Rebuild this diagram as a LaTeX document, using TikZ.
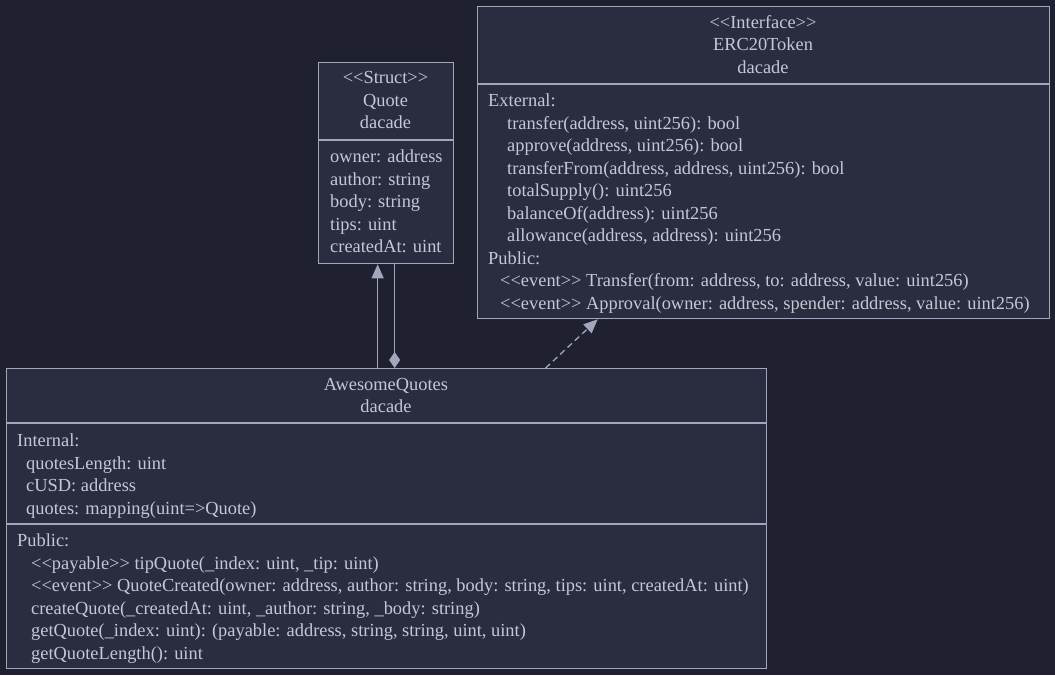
\documentclass[tikz,border=0pt]{standalone}
\usepackage{fontspec}
\setmainfont{Liberation Serif}
\usetikzlibrary{arrows.meta}
\definecolor{bg}{HTML}{1F2030}
\definecolor{boxfill}{HTML}{2A2C3F}
\definecolor{edge}{HTML}{A3A5BC}
\definecolor{ink}{HTML}{C6C7D6}
% guillemet-like stereotype brackets kept as two separate characters
\newcommand\stOpen{\mbox{<}\mbox{<}}
\newcommand\stClose{\mbox{>}\mbox{>}}

\begin{document}
\begin{tikzpicture}[x=1pt,y=-1pt,
  box/.style={draw=edge, fill=boxfill, line width=1.3pt, inner sep=0pt, anchor=north west},
  txt/.style={text=ink, font=\fontsize{18.4}{22}\selectfont, inner sep=0pt, anchor=base west},
  hdr/.style={txt, anchor=base},
  rule/.style={draw=edge, line width=1.3pt},
  link/.style={draw=edge, line width=1.3pt}]

\useasboundingbox (0,0) rectangle (1055,675);
\fill[bg] (0,0) rectangle (1055,675);

% ---------- class boxes ----------
\node[box, minimum width=135pt, minimum height=201pt] (quote) at (318,62) {};
\node[box, minimum width=572pt, minimum height=312pt] (erc) at (477,6) {};
\node[box, minimum width=760pt, minimum height=300pt] (aq) at (6,368) {};

% compartment separators
\draw[rule] (318,140) -- (453,140);
\draw[rule] (477,84) -- (1049,84);
\draw[rule] (6,423) -- (766,423);
\draw[rule] (6,524) -- (766,524);

% ---------- Quote ----------
\node[hdr] (q-st) at (385.5,83.5) {\stOpen Struct\stClose};
\node[hdr] (q-nm) at (385.5,106) {Quote};
\node[hdr] (q-ns) at (385.5,128.5) {dacade};
\node[txt] (q-1) at (330,162.5) {owner: address};
\node[txt] (q-2) at (330,185) {author: string};
\node[txt] (q-3) at (330,207.5) {body: string};
\node[txt] (q-4) at (330,230) {tips: uint};
\node[txt] (q-5) at (330,252.5) {createdAt: uint};

% ---------- ERC20Token ----------
\node[hdr] (e-st) at (763,28) {\stOpen Interface\stClose};
\node[hdr] (e-nm) at (763,50.5) {ERC20Token};
\node[hdr] (e-ns) at (763,73) {dacade};
\node[txt] (e-ext) at (488,106.5) {External:};
\node[txt] (e-1) at (507,129) {transfer(address, uint256): bool};
\node[txt] (e-2) at (507,151.5) {approve(address, uint256): bool};
\node[txt] (e-3) at (507,174) {transferFrom(address, address, uint256): bool};
\node[txt] (e-4) at (507,196.5) {totalSupply(): uint256};
\node[txt] (e-5) at (507,219) {balanceOf(address): uint256};
\node[txt] (e-6) at (507,241.5) {allowance(address, address): uint256};
\node[txt] (e-pub) at (488,264) {Public:};
\node[txt] (e-7) at (500,286.5) {\stOpen event\stClose{} Transfer(from: address, to: address, value: uint256)};
\node[txt] (e-8) at (500,309) {\stOpen event\stClose{} Approval(owner: address, spender: address, value: uint256)};

% ---------- AwesomeQuotes ----------
\node[hdr] (a-nm) at (386,390) {AwesomeQuotes};
\node[hdr] (a-ns) at (386,412.5) {dacade};
\node[txt] (a-int) at (17,446.5) {Internal:};
\node[txt] (a-1) at (26,469) {quotesLength: uint};
\node[txt] (a-2) at (26,491.5) {cUSD: address};
\node[txt] (a-3) at (26,514) {quotes: mapping(uint=>Quote)};
\node[txt] (a-pub) at (17,546.5) {Public:};
\node[txt] (a-4) at (31,569) {\stOpen payable\stClose{} tipQuote(\_index: uint, \_tip: uint)};
\node[txt] (a-5) at (31,591.5) {\stOpen event\stClose{} QuoteCreated(owner: address, author: string, body: string, tips: uint, createdAt: uint)};
\node[txt] (a-6) at (31,614) {createQuote(\_createdAt: uint, \_author: string, \_body: string)};
\node[txt] (a-7) at (31,636.5) {getQuote(\_index: uint): (payable: address, string, string, uint, uint)};
\node[txt] (a-8) at (31,659) {getQuoteLength(): uint};

% ---------- relations ----------
\draw[link, -{Triangle[length=14pt,width=12pt]}]
  ([xshift=-9pt]aq.north) -- ([xshift=-8.5pt]quote.south);
\draw[link, -{Diamond[length=16pt,width=11pt]}]
  ([xshift=8.5pt]quote.south) -- ([xshift=8pt]aq.north);
\draw[link, dash pattern=on 6pt off 4pt, -{Triangle[length=14pt,width=12pt]}]
  ([xshift=159pt]aq.north) -- ([xshift=-166pt]erc.south);
\end{tikzpicture}
\end{document}
